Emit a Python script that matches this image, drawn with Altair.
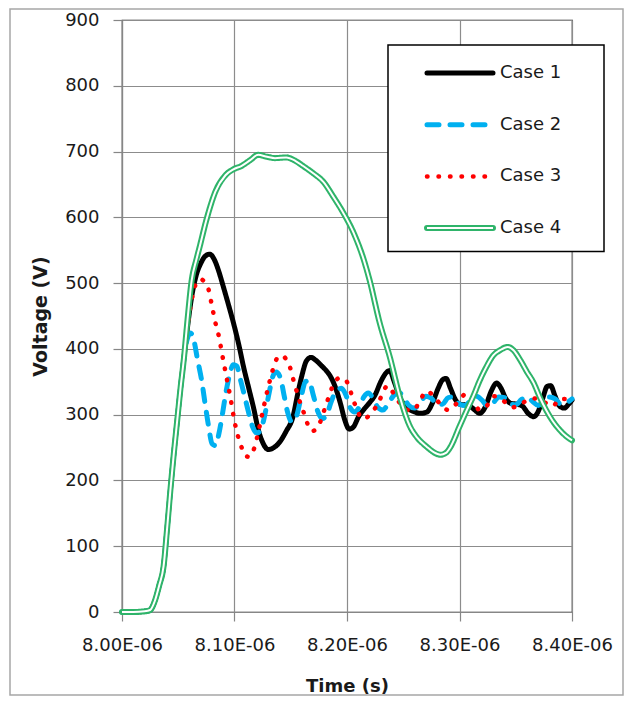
import altair as alt
import pandas as pd

cases = ["Case 1", "Case 2", "Case 3", "Case 4"]

# common rising edge (time in microseconds, voltage in V)
rise_t = [8.000, 8.010, 8.020, 8.025, 8.029, 8.033, 8.037, 8.040, 8.043, 8.046, 8.049, 8.052, 8.055]
rise_v = [0, 0, 1, 3, 16, 40, 70, 125, 185, 240, 290, 340, 385]

case1_t = [8.058, 8.062, 8.066, 8.070, 8.074, 8.078, 8.082, 8.086, 8.090, 8.095, 8.099, 8.104,
           8.108, 8.113, 8.117, 8.121, 8.125, 8.130, 8.135, 8.140, 8.146, 8.152, 8.156, 8.160,
           8.164, 8.168, 8.172, 8.177, 8.182, 8.186, 8.190, 8.194, 8.198, 8.202, 8.206, 8.210,
           8.215, 8.220, 8.225, 8.230, 8.235, 8.238, 8.242, 8.247, 8.253, 8.259, 8.265, 8.271,
           8.276, 8.281, 8.285, 8.288, 8.292, 8.296, 8.300, 8.308, 8.313, 8.318, 8.323, 8.328,
           8.333, 8.337, 8.341, 8.346, 8.351, 8.356, 8.361, 8.366, 8.370, 8.374, 8.378, 8.381,
           8.385, 8.389, 8.393, 8.397, 8.400]
case1_v = [430, 480, 512, 530, 541, 544, 536, 518, 495, 465, 440, 405,
           373, 338, 310, 278, 258, 247, 250, 258, 275, 297, 330, 360,
           382, 387, 383, 375, 366, 356, 340, 318, 292, 278, 282, 296,
           308, 318, 330, 350, 364, 367, 350, 326, 311, 305, 302, 304,
           318, 340, 353, 355, 340, 324, 316, 314, 308, 302, 312, 335,
           348, 340, 325, 317, 316, 313, 302, 297, 305, 325, 343, 344,
           328, 313, 310, 316, 322]

case2_t = [8.058, 8.061, 8.064, 8.067, 8.071, 8.074, 8.077, 8.080, 8.083, 8.086, 8.089, 8.092,
           8.095, 8.099, 8.102, 8.105, 8.108, 8.112, 8.116, 8.120, 8.124, 8.127, 8.131, 8.134,
           8.137, 8.141, 8.144, 8.147, 8.151, 8.155, 8.159, 8.163, 8.166, 8.170, 8.174, 8.178,
           8.182, 8.186, 8.190, 8.195, 8.199, 8.203, 8.207, 8.211, 8.215, 8.219, 8.223, 8.227,
           8.232, 8.237, 8.242, 8.246, 8.250, 8.255, 8.260, 8.265, 8.270, 8.275, 8.280, 8.285,
           8.290, 8.295, 8.300, 8.305, 8.310, 8.315, 8.320, 8.325, 8.330, 8.335, 8.340, 8.345,
           8.350, 8.355, 8.360, 8.365, 8.370, 8.375, 8.380, 8.385, 8.390, 8.395, 8.400]
case2_v = [415, 424, 412, 385, 350, 315, 282, 256, 253, 270, 298, 330,
           356, 376, 374, 355, 335, 307, 282, 272, 280, 300, 335, 358,
           365, 355, 330, 305, 289, 297, 325, 350, 352, 330, 305, 294,
           300, 320, 335, 340, 330, 310, 304, 312, 327, 333, 325, 312,
           307, 318, 330, 334, 327, 314, 310, 318, 328, 325, 315, 316,
           326, 327, 316, 314, 322, 328, 322, 313, 318, 327, 326, 316,
           315, 323, 327, 320, 314, 320, 327, 324, 316, 318, 324]

case3_t = [8.058, 8.062, 8.066, 8.070, 8.074, 8.077, 8.080, 8.083, 8.086, 8.089, 8.093, 8.097,
           8.100, 8.103, 8.106, 8.109, 8.113, 8.116, 8.119, 8.122, 8.126, 8.130, 8.134, 8.138,
           8.142, 8.146, 8.149, 8.152, 8.155, 8.158, 8.161, 8.164, 8.169, 8.173, 8.176, 8.179,
           8.182, 8.186, 8.190, 8.194, 8.198, 8.202, 8.205, 8.209, 8.213, 8.217, 8.221, 8.228,
           8.233, 8.236, 8.240, 8.245, 8.250, 8.256, 8.260, 8.265, 8.271, 8.277, 8.283, 8.290,
           8.299, 8.306, 8.312, 8.318, 8.324, 8.331, 8.339, 8.347, 8.356, 8.365, 8.374, 8.383,
           8.389, 8.395, 8.400]
case3_v = [430, 475, 500, 506, 500, 490, 465, 440, 420, 392, 356, 320,
           290, 268, 252, 238, 236, 242, 258, 280, 312, 342, 368, 386,
           390, 384, 374, 355, 337, 320, 306, 290, 275, 279, 288, 303,
           318, 338, 352, 356, 354, 342, 325, 308, 294, 295, 302, 318,
           338, 344, 336, 322, 312, 306, 308, 322, 336, 328, 316, 307,
           320, 332, 321, 307, 313, 328, 321, 311, 318, 325, 320, 313,
           324, 324, 321]

case4_t = [8.058, 8.062, 8.066, 8.069, 8.075, 8.083, 8.092, 8.099, 8.106, 8.114, 8.121, 8.129,
           8.136, 8.146, 8.154, 8.161, 8.170, 8.179, 8.188, 8.197, 8.206, 8.215, 8.220, 8.229,
           8.238, 8.247, 8.256, 8.262, 8.271, 8.277, 8.283, 8.288, 8.292, 8.300, 8.306, 8.312,
           8.318, 8.324, 8.330, 8.336, 8.343, 8.348, 8.354, 8.360, 8.366, 8.371, 8.377, 8.383,
           8.389, 8.395, 8.400]
case4_v = [440, 505, 535, 555, 596, 639, 664, 673, 678, 687, 695, 692,
           690, 691, 686, 678, 667, 654, 631, 606, 576, 535, 505, 440,
           388, 327, 282, 266, 251, 243, 239, 242, 251, 282, 305, 327,
           352, 373, 390, 398, 403, 398, 383, 365, 348, 328, 307, 290,
           277, 267, 261]

x_ticks = [8.0, 8.1, 8.2, 8.3, 8.4]
y_ticks = [0, 100, 200, 300, 400, 500, 600, 700, 800, 900]

series_t = [case1_t, case2_t, case3_t, case4_t]
series_v = [case1_v, case2_v, case3_v, case4_v]

styles = {
    "Case 1": dict(color="#000000", strokeWidth=5, strokeDash=[1, 0], strokeCap="round"),
    "Case 2": dict(color="#00B0F0", strokeWidth=5, strokeDash=[12, 11], strokeCap="round"),
    "Case 3": dict(color="#FF0000", strokeWidth=4.5, strokeDash=[0.5, 11], strokeCap="round"),
    "Case 4": dict(color="#2FB46A", strokeWidth=6, strokeDash=[1, 0], strokeCap="round"),
}

FONT = "DejaVu Sans"

def frame(name, ts, vs):
    return pd.DataFrame({"t": rise_t + ts, "v": rise_v + vs, "case": name})

x_enc = alt.X("t:Q", scale=alt.Scale(domain=[8.0, 8.4], nice=False, zero=False),
              axis=alt.Axis(values=x_ticks, title="Time (s)", labelOverlap=False, labelFlush=False,
                            labelExpr="format(datum.value, '.2f') + 'E-06'",
                            tickSize=9, labelPadding=15, titlePadding=23,
                            titleFontSize=18))
y_enc = alt.Y("v:Q", scale=alt.Scale(domain=[0, 900], nice=False),
              axis=alt.Axis(values=y_ticks, title="Voltage (V)", tickSize=9, labelOverlap=False,
                            labelFlush=False, labelPadding=14, titlePadding=14, titleFontSize=19))

layers = []
for name, ts, vs in zip(cases, series_t, series_v):
    df = frame(name, ts, vs)
    st = styles[name]
    layers.append(alt.Chart(df).mark_line(interpolate="monotone", **st).encode(x=x_enc, y=y_enc))
    if name == "Case 4":
        layers.append(alt.Chart(df).mark_line(interpolate="monotone", color="white",
                                              strokeWidth=2).encode(x=x_enc, y=y_enc))

# legend box and entries
dummy = pd.DataFrame({"case": ["box"]})
layers.append(alt.Chart(dummy).mark_rect(fill="white", stroke="#000000", strokeWidth=1.5).encode(
    x=alt.value(266), x2=alt.value(482), y=alt.value(25), y2=alt.value(231.5)))
for i, name in enumerate(cases):
    yy = 53 + i * 51.7
    st = styles[name]
    ld = pd.DataFrame({"case": [name]})
    layers.append(alt.Chart(ld).mark_rule(color=st["color"], strokeWidth=st["strokeWidth"],
                                          strokeDash=st["strokeDash"], strokeCap="round").encode(
        x=alt.value(305), x2=alt.value(371), y=alt.value(yy)))
    if name == "Case 4":
        layers.append(alt.Chart(ld).mark_rule(color="white", strokeWidth=2).encode(
            x=alt.value(305), x2=alt.value(371), y=alt.value(yy)))
    layers.append(alt.Chart(ld).mark_text(align="left", baseline="middle", font=FONT,
                                          fontSize=18, color="#1a1a1a").encode(
        x=alt.value(378), y=alt.value(yy), text="case:N"))

# outer chart-area border
layers.append(alt.Chart(dummy).mark_rect(fill="transparent", stroke="#a6a6a6", strokeWidth=1.5).encode(
    x=alt.value(-112), x2=alt.value(501), y=alt.value(-11), y2=alt.value(675)))

chart = alt.layer(*layers).properties(
    width=450, height=592, autosize="none",
    padding={"left": 114, "top": 12, "right": 52, "bottom": 84},
).configure_view(stroke="#1a1a1a", strokeWidth=1.2).configure_axis(
    domainColor="#868686", tickColor="#868686", gridColor="#8c8c8c", gridWidth=1.2,
    domainWidth=1.2, tickWidth=1.2, labelFont=FONT, labelFontSize=18, labelColor="#1a1a1a",
    titleFont=FONT, titleFontWeight="bold", titleColor="#1a1a1a", grid=True,
)

chart.save("out.html", embed_options={"renderer": "svg", "actions": False})
